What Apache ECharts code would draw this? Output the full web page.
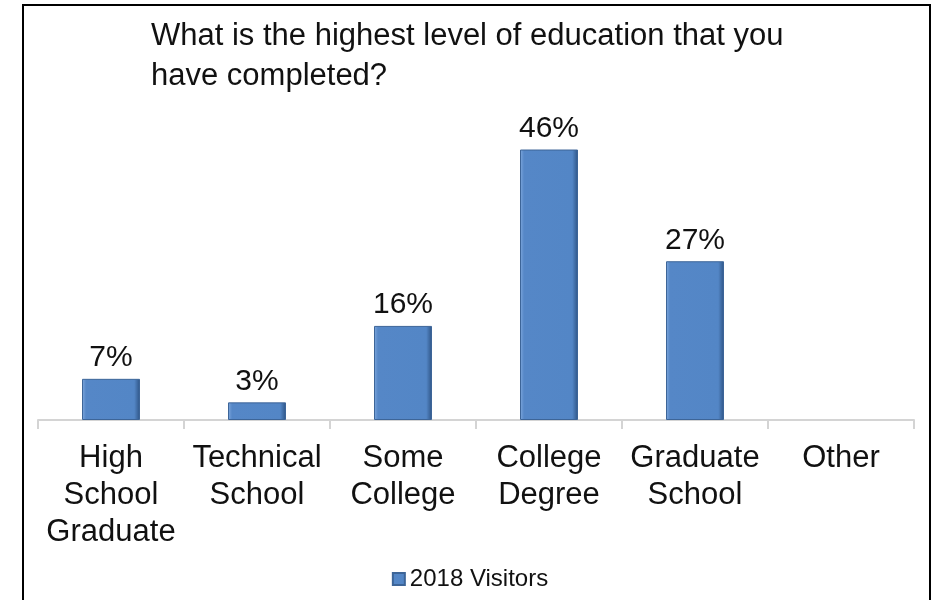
<!DOCTYPE html>
<html>
<head>
<meta charset="utf-8">
<title>Highest level of education</title>
<script src="https://cdn.jsdelivr.net/npm/echarts@6/dist/echarts.min.js"></script>
<style>
  html, body { margin: 0; padding: 0; background: #ffffff; }
  #chart { width: 940px; height: 600px; }
</style>
</head>
<body>
<div id="chart"></div>
<script>
// Survey question and answer categories
const titleText = 'What is the highest level of education that you\nhave completed?';
const categories = [
  'High\nSchool\nGraduate',
  'Technical\nSchool',
  'Some\nCollege',
  'College\nDegree',
  'Graduate\nSchool',
  'Other'
];
const seriesName = '2018 Visitors';
// Share of respondents, percent
const visitors2018 = [7, 3, 16, 46, 27, 0];

const FONT = '"Liberation Sans", Arial, Helvetica, sans-serif';

// Bevelled blue fill: light left edge, flat body, dark right edge
const barFill = new echarts.graphic.LinearGradient(0, 0, 1, 0, [
  { offset: 0, color: '#7FA8DD' },
  { offset: 0.07, color: '#5587C7' },
  { offset: 0.9, color: '#5386C6' },
  { offset: 1, color: '#2E5485' }
]);

// Empty answers get no outline, so nothing is drawn for them
const barData = visitors2018.map(v => (
  v ? { value: v } : { value: v, itemStyle: { borderWidth: 0, opacity: 0 } }
));

const chart = echarts.init(document.getElementById('chart'), null, { renderer: 'canvas' });

chart.setOption({
  backgroundColor: '#ffffff',
  animation: false,
  title: {
    text: titleText,
    left: 146,
    top: 11,
    textStyle: {
      fontFamily: FONT,
      fontSize: 31,
      fontWeight: 'normal',
      color: '#111111',
      lineHeight: 40
    }
  },
  legend: {
    data: [seriesName],
    bottom: 4,
    left: 'center',
    itemWidth: 12,
    itemHeight: 12,
    itemGap: 6,
    icon: 'rect',
    textStyle: { fontFamily: FONT, fontSize: 24, color: '#111111' }
  },
  grid: { left: 38, right: 26, top: 126, bottom: 180, containLabel: false },
  xAxis: {
    type: 'category',
    data: categories,
    boundaryGap: true,
    axisLine: { show: true, lineStyle: { color: '#D4D4D4', width: 2 } },
    axisTick: { show: true, length: 9, alignWithLabel: false, lineStyle: { color: '#D4D4D4', width: 2 } },
    axisLabel: {
      interval: 0,
      margin: 20,
      fontFamily: FONT,
      fontSize: 31,
      lineHeight: 37,
      color: '#111111',
      align: 'center'
    }
  },
  yAxis: {
    type: 'value',
    min: 0,
    max: 50,
    show: false,
    splitLine: { show: false }
  },
  series: [{
    name: seriesName,
    type: 'bar',
    data: barData,
    barWidth: 58,
    itemStyle: {
      color: barFill,
      borderColor: '#3D6598',
      borderWidth: 1
    },
    label: {
      show: true,
      position: 'top',
      distance: 6,
      fontFamily: FONT,
      fontSize: 30,
      color: '#111111',
      formatter: p => (p.value ? p.value + '%' : '')
    }
  }],
  graphic: [{
    type: 'rect',
    silent: true,
    z: 100,
    shape: { x: 23, y: 5, width: 907, height: 640 },
    style: { fill: 'none', stroke: '#000000', lineWidth: 2 }
  }]
});
</script>
</body>
</html>
